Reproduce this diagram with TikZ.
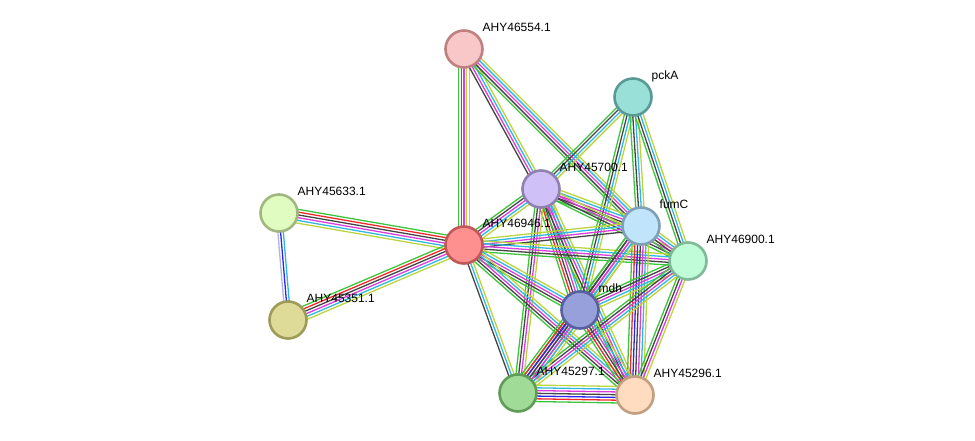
\documentclass[tikz,border=0pt]{standalone}
\usepackage{fontspec}
\setmainfont{Liberation Sans}
\usetikzlibrary{calc}
\definecolor{sG}{HTML}{3CC43C}
\definecolor{sR}{HTML}{F02828}
\definecolor{sB}{HTML}{2828F0}
\definecolor{sK}{HTML}{444444}
\definecolor{sM}{HTML}{DC3CDC}
\definecolor{sC}{HTML}{30B8E0}
\definecolor{sY}{HTML}{BCD43C}
\definecolor{sL}{HTML}{B0B0F4}
\pgfdeclarelayer{bg}
\pgfsetlayers{bg,main}
\newcommand{\sedge}[3]{%
  \foreach \cc [count=\k] in {#3} {\xdef\ncnt{\k}}%
  \foreach \cc [count=\k] in {#3} {%
    \pgfmathsetmacro{\off}{(\k-(\ncnt+1)/2)*2.75}%
    \draw[edgeline,\cc] ($(#1.center)!\off pt!90:(#2.center)$) -- ($(#2.center)!\off pt!-90:(#1.center)$);
  }%
}
\tikzset{
  prot/.style={circle, minimum size=37pt, inner sep=0pt, line width=2.6pt},
  lbl/.style={anchor=base west, inner sep=0pt, font=\fontsize{12pt}{14pt}\selectfont, text=black},
  edgeline/.style={line width=1.3pt}
}
\begin{document}
\begin{tikzpicture}[x=1pt,y=-1pt]
\useasboundingbox (0,0) rectangle (975,441);
% nodes
\node[prot, fill={rgb,255:red,248;green,200;blue,200}, draw={rgb,255:red,192;green,128;blue,128}] (n54) at (464,49) {};
\node[prot, fill={rgb,255:red,152;green,224;blue,216}, draw={rgb,255:red,90;green,154;blue,148}] (npck) at (633,97) {};
\node[prot, fill={rgb,255:red,208;green,192;blue,248}, draw={rgb,255:red,144;green,128;blue,176}] (n700) at (541,189) {};
\node[prot, fill={rgb,255:red,224;green,252;blue,192}, draw={rgb,255:red,160;green,184;blue,128}] (n633) at (279,213) {};
\node[prot, fill={rgb,255:red,255;green,144;blue,144}, draw={rgb,255:red,192;green,88;blue,88}] (n946) at (464,245) {};
\node[prot, fill={rgb,255:red,192;green,228;blue,250}, draw={rgb,255:red,128;green,160;blue,184}] (nfum) at (641,226) {};
\node[prot, fill={rgb,255:red,192;green,252;blue,216}, draw={rgb,255:red,128;green,184;blue,152}] (n900) at (688,261) {};
\node[prot, fill={rgb,255:red,152;green,160;blue,220}, draw={rgb,255:red,88;green,96;blue,160}] (nmdh) at (580,310) {};
\node[prot, fill={rgb,255:red,222;green,218;blue,152}, draw={rgb,255:red,158;green,154;blue,88}] (n351) at (288,320) {};
\node[prot, fill={rgb,255:red,160;green,220;blue,152}, draw={rgb,255:red,96;green,156;blue,88}] (n297) at (518,393) {};
\node[prot, fill={rgb,255:red,255;green,220;blue,192}, draw={rgb,255:red,192;green,160;blue,128}] (n296) at (635,395) {};
% labels
\node[lbl] (l54) at ($(n54)+(18.5,-17.5)$) {AHY46554.1};
\node[lbl] (lpck) at ($(npck)+(18.5,-17.5)$) {pckA};
\node[lbl] (l700) at ($(n700)+(18.5,-17.5)$) {AHY45700.1};
\node[lbl] (l633) at ($(n633)+(18.5,-17.5)$) {AHY45633.1};
\node[lbl] (l946) at ($(n946)+(18.5,-17.5)$) {AHY46946.1};
\node[lbl] (lfum) at ($(nfum)+(18.5,-17.5)$) {fumC};
\node[lbl] (l900) at ($(n900)+(18.5,-17.5)$) {AHY46900.1};
\node[lbl] (lmdh) at ($(nmdh)+(18.5,-17.5)$) {mdh};
\node[lbl] (l351) at ($(n351)+(18.5,-17.5)$) {AHY45351.1};
\node[lbl] (l297) at ($(n297)+(18.5,-17.5)$) {AHY45297.1};
\node[lbl] (l296) at ($(n296)+(18.5,-17.5)$) {AHY45296.1};
% edges
\begin{pgfonlayer}{bg}
\sedge{n54}{n946}{sG,sR,sM,sY,sY}
\sedge{n54}{n700}{sK,sM,sC,sY}
\sedge{n54}{nfum}{sG,sK,sM,sC,sY}
\sedge{npck}{n700}{sG,sK,sC,sY}
\sedge{npck}{nmdh}{sG,sK,sC,sY}
\sedge{npck}{nfum}{sG,sK,sC,sY}
\sedge{npck}{n900}{sG,sK,sC,sY}
\sedge{n700}{n946}{sG,sK,sM,sC,sY}
\sedge{n700}{nfum}{sG,sK,sM,sC,sY}
\sedge{n700}{n900}{sG,sK,sM,sY}
\sedge{n700}{nmdh}{sG,sR,sK,sM,sC,sY}
\sedge{n700}{n297}{sG,sK,sM,sY}
\sedge{n700}{n296}{sG,sK,sM,sC,sY}
\sedge{n946}{n633}{sG,sR,sK,sM,sC,sY}
\sedge{n946}{n351}{sG,sR,sK,sM,sC,sY}
\sedge{n633}{n351}{sL,sB,sC}
\sedge{n946}{nfum}{sK,sM,sC,sY}
\sedge{n946}{n900}{sG,sK,sM,sC,sY}
\sedge{n946}{nmdh}{sG,sK,sM,sC,sY}
\sedge{n946}{n297}{sK,sC,sY}
\sedge{n946}{n296}{sG,sK,sM,sC,sY}
\sedge{nfum}{n900}{sG,sK,sM,sC,sY}
\sedge{nfum}{nmdh}{sG,sK,sM,sC,sY}
\sedge{nfum}{n296}{sG,sR,sB,sK,sM,sC,sY}
\sedge{nfum}{n297}{sG,sK,sM,sC,sY}
\sedge{n900}{nmdh}{sG,sK,sM,sC,sY}
\sedge{n900}{n296}{sG,sK,sM,sY}
\sedge{n900}{n297}{sG,sK,sM,sC,sY}
\sedge{nmdh}{n297}{sG,sR,sB,sK,sM,sC,sY}
\sedge{nmdh}{n296}{sG,sR,sK,sM,sC,sY}
\sedge{n297}{n296}{sG,sR,sB,sK,sM,sC,sY}
\end{pgfonlayer}
\end{tikzpicture}
\end{document}
